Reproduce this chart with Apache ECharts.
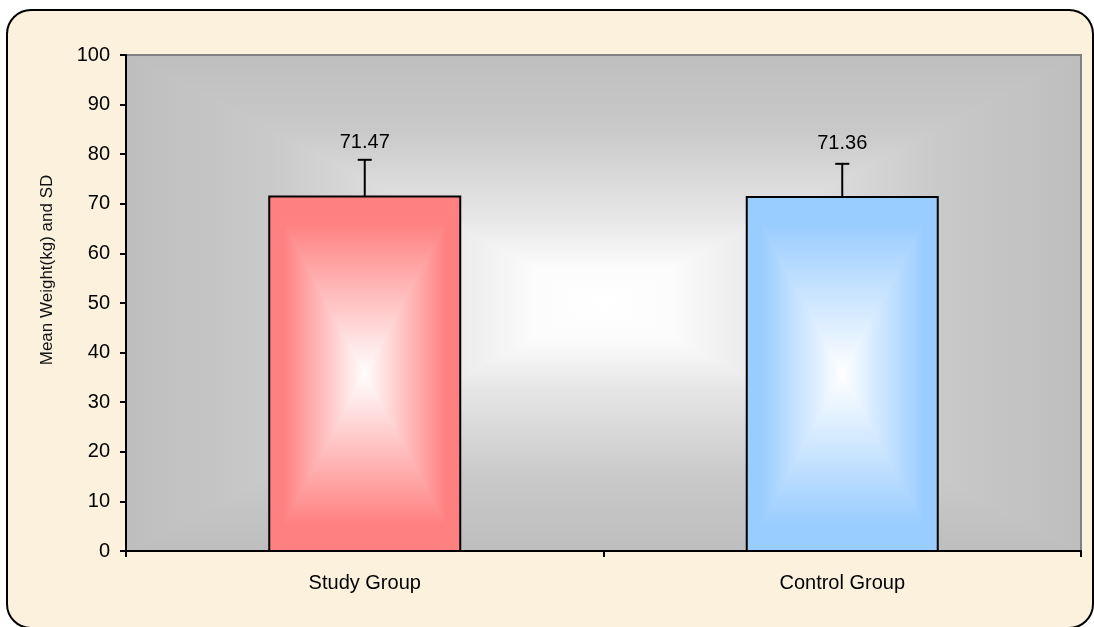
<!DOCTYPE html>
<html>
<head>
<meta charset="utf-8">
<script src="https://cdn.jsdelivr.net/npm/echarts@6/dist/echarts.min.js"></script>
<style>
  html, body { margin: 0; padding: 0; background: #ffffff; }
  #chart { width: 1094px; height: 627px; }
</style>
</head>
<body>
<div id="chart"></div>
<script>
// Group means and standard deviations of body weight (kg)
const categories = ['Study Group', 'Control Group'];
const meanWeight = [71.47, 71.36];
const sdWeight = [7.4, 6.7];

// Value axis range
const yMin = 0;
const yMax = 100;
const yStep = 10;

// Edge colours of the bars (fade to white in the centre)
const barEdgeColors = ['#FF8080', '#99CCFF'];

const FONT = '"Liberation Sans", Arial, sans-serif';

// Four triangles meeting at the centre, each with a linear fade,
// give a rectangular "from centre" gradient.
function rectGradientParts(x0, y0, x1, y1, stops) {
  const cx = (x0 + x1) / 2, cy = (y0 + y1) / 2;
  const lin = (x, y, x2, y2) => ({
    type: 'linear', x: x, y: y, x2: x2, y2: y2,
    colorStops: stops.map(s => ({ offset: s[0], color: s[1] }))
  });
  const tri = (pts, g) => ({
    type: 'polygon', shape: { points: pts },
    style: { fill: g, stroke: g, lineWidth: 1 }
  });
  return [
    tri([[x0, y0], [x0, y1], [cx, cy]], lin(0, 0, 1, 0)),
    tri([[x1, y0], [x1, y1], [cx, cy]], lin(1, 0, 0, 0)),
    tri([[x0, y0], [x1, y0], [cx, cy]], lin(0, 0, 0, 1)),
    tri([[x0, y1], [x1, y1], [cx, cy]], lin(0, 1, 0, 0))
  ];
}

const plotStops = [[0, '#BEBEBE'], [0.3, '#C9C9C9'], [0.65, '#E6E6E6'], [0.86, '#FCFCFC'], [1, '#FFFFFF']];

const chart = echarts.init(document.getElementById('chart'), null, { renderer: 'canvas' });

const option = {
  backgroundColor: '#ffffff',
  animation: false,
  graphic: [
    {
      type: 'rect', z: -10,
      shape: { x: 7, y: 10, width: 1086, height: 618, r: 24 },
      style: { fill: '#FCF1DC', stroke: '#000000', lineWidth: 2 }
    },
    {
      type: 'text', z: 10,
      x: 47, y: 270, rotation: Math.PI / 2,
      style: {
        text: 'Mean Weight(kg) and SD',
        font: '17px ' + FONT,
        fill: '#111111',
        align: 'center', verticalAlign: 'middle'
      }
    }
  ],
  grid: { left: 126, right: 13, top: 55, bottom: 76, containLabel: false },
  xAxis: {
    type: 'category',
    data: categories,
    z: 10,
    axisLine: { show: true, lineStyle: { color: '#000000', width: 2 } },
    axisTick: { show: true, length: 6, lineStyle: { color: '#000000', width: 2 } },
    axisLabel: { color: '#000000', fontSize: 20, fontFamily: FONT, margin: 22 },
    splitLine: { show: false }
  },
  yAxis: {
    type: 'value',
    min: yMin, max: yMax, interval: yStep,
    z: 10,
    axisLine: { show: true, lineStyle: { color: '#000000', width: 2 } },
    axisTick: { show: true, length: 6, lineStyle: { color: '#000000', width: 2 } },
    axisLabel: { color: '#000000', fontSize: 20, fontFamily: FONT, margin: 16 },
    splitLine: { show: false }
  },
  series: [
    {
      // plot-area backdrop
      type: 'custom',
      z: 1,
      silent: true,
      data: [[0, 0]],
      renderItem: function (params) {
        const cs = params.coordSys;
        const x0 = cs.x, y0 = cs.y, x1 = cs.x + cs.width, y1 = cs.y + cs.height;
        return {
          type: 'group',
          children: rectGradientParts(x0, y0, x1, y1, plotStops).concat([
            { type: 'rect', shape: { x: x0, y: y0, width: cs.width, height: cs.height },
              style: { fill: null, stroke: '#808080', lineWidth: 2 } }
          ])
        };
      }
    },
    {
      // bars with standard-deviation whiskers and value labels
      type: 'custom',
      z: 3,
      data: categories.map((c, i) => [i, meanWeight[i], sdWeight[i]]),
      encode: { x: 0, y: 1 },
      renderItem: function (params, api) {
        const i = api.value(0), v = api.value(1), sd = api.value(2);
        const base = api.coord([i, 0]);
        const top = api.coord([i, v]);
        const err = api.coord([i, v + sd]);
        const bw = api.size([1, 0])[0] * 0.4;
        const cx = base[0];
        const x0 = cx - bw / 2, x1 = cx + bw / 2;
        const edge = barEdgeColors[params.dataIndex % barEdgeColors.length];
        const stops = [[0, edge], [0.15, edge], [1, '#FFFFFF']];
        return {
          type: 'group',
          children: rectGradientParts(x0, top[1], x1, base[1], stops).concat([
            { type: 'rect', shape: { x: x0, y: top[1], width: bw, height: base[1] - top[1] },
              style: { fill: null, stroke: '#000000', lineWidth: 2 } },
            { type: 'line', shape: { x1: cx, y1: top[1], x2: cx, y2: err[1] },
              style: { stroke: '#000000', lineWidth: 2 } },
            { type: 'line', shape: { x1: cx - 7, y1: err[1], x2: cx + 7, y2: err[1] },
              style: { stroke: '#000000', lineWidth: 2 } },
            { type: 'text', x: cx, y: top[1] - 54,
              style: { text: v.toFixed(2), font: '20px ' + FONT, fill: '#000000',
                       align: 'center', verticalAlign: 'middle' } }
          ])
        };
      }
    }
  ]
};

chart.setOption(option);
</script>
</body>
</html>
